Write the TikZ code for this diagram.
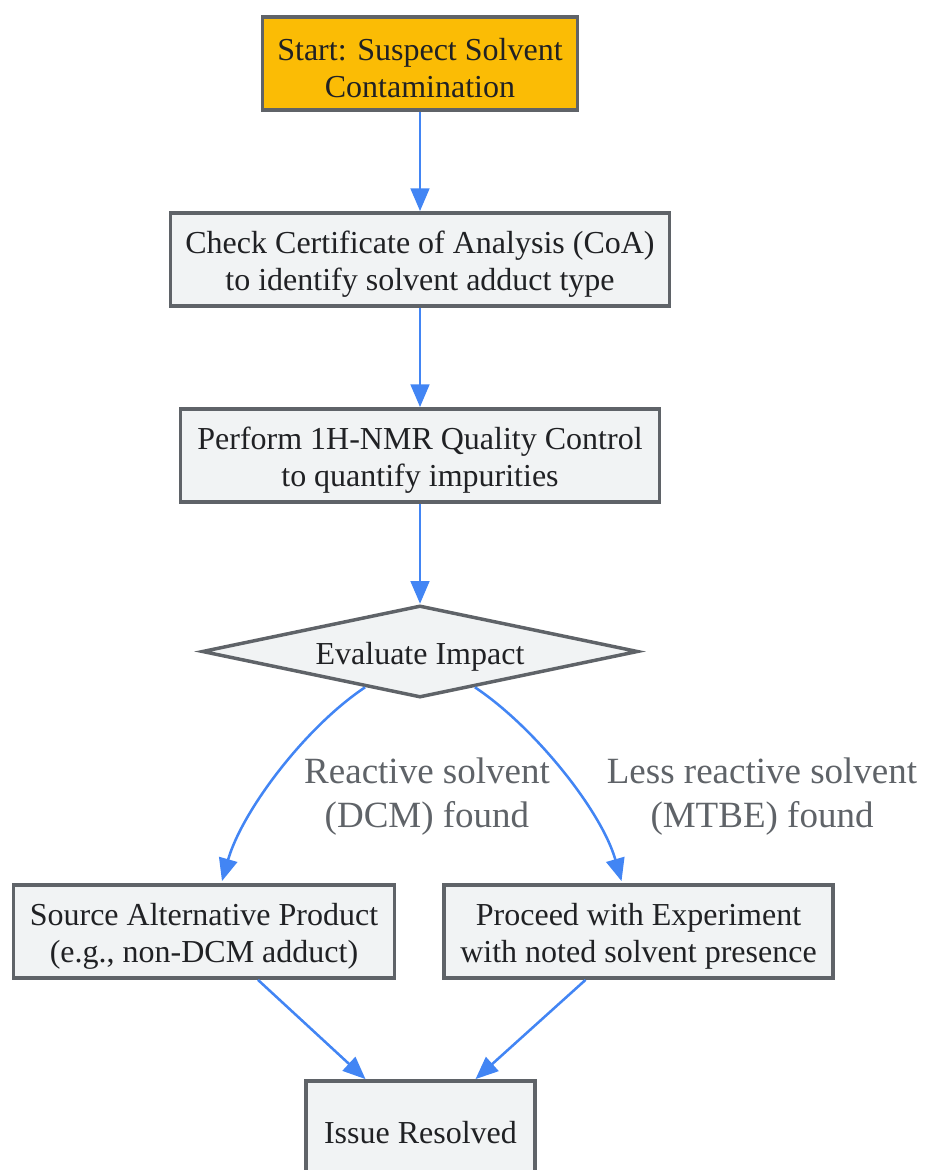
\documentclass[tikz,border=0pt]{standalone}
\usepackage{fontspec}
\setmainfont{Liberation Serif}
\usetikzlibrary{arrows,arrows.meta,positioning,calc,shapes.geometric}
\definecolor{boxfill}{HTML}{F1F3F4}
\definecolor{startfill}{HTML}{FBBC05}
\definecolor{edgegray}{HTML}{5F6368}
\definecolor{flowblue}{HTML}{4285F4}
\definecolor{inkgray}{HTML}{202124}
\newcommand{\lift}{\rule{0pt}{24pt}}

\begin{document}
\begin{tikzpicture}[x=0.75pt,y=-0.75pt]
    \tikzstyle{every node}+=[inner sep=0pt, align=center, text=inkgray, font=\fontsize{24}{27.75}\selectfont]
    \tikzstyle{box}=[draw=edgegray, line width=2.6pt, fill=boxfill, minimum height=70pt]
    \tikzstyle{flow}=[draw=flowblue, line width=1.9pt, -{Triangle[length=17pt,width=14pt]}]
    \tikzstyle{lbl}=[text=edgegray, font=\fontsize{27.75}{33}\selectfont]
    \useasboundingbox (0,0) rectangle (924,1170);
    \clip (0,0) rectangle (924,1170);
    \node [box, fill=startfill, minimum width=236pt] (start) at (420,63.5) {\lift Start: Suspect Solvent\\Contamination};
    \node [box, minimum width=374.5pt] (coa) at (420,259.5) {\lift Check Certificate of Analysis (CoA)\\to identify solvent adduct type};
    \node [box, minimum width=359pt] (nmr) at (420,455.5) {\lift Perform 1H-NMR Quality Control\\to quantify impurities};
    \node [box, diamond, aspect=4.6, minimum width=327pt, minimum height=69pt] (eval) at (420,651.5) {\lift Evaluate Impact};
    \node [box, minimum width=285.5pt] (alt) at (204,931.5) {\lift Source Alternative Product\\(e.g., non-DCM adduct)};
    \node [box, minimum width=292pt] (go) at (638.5,931.5) {\lift Proceed with Experiment\\with noted solvent presence};
    \node [box, minimum width=172pt] (done) at (420.5,1127.5) {\lift Issue Resolved};
    \draw [flow] (start) -- (coa);
    \draw [flow] (coa) -- (nmr);
    \draw [flow] (nmr) -- (eval);
    \draw [flow] ($(eval.south west)!0.5!(eval.south)$) .. controls +(-60,40) and +(20,-70) .. ($(alt.north)+(18,-2)$);
    \draw [flow] ($(eval.south east)!0.5!(eval.south)$) .. controls +(60,40) and +(-20,-70) .. ($(go.north)+(-17,-2)$);
    \node [lbl] (dcm) at (427,793) {\lift Reactive solvent\\(DCM) found};
    \node [lbl] (mtbe) at (762,793) {\lift Less reactive solvent\\(MTBE) found};
    \draw [flow] ($(alt.south)+(54,0)$) -- ($(done.north)+(-55,0)$);
    \draw [flow] ($(go.south)+(-53,0)$) -- ($(done.north)+(55,0)$);
\end{tikzpicture}
\end{document}
